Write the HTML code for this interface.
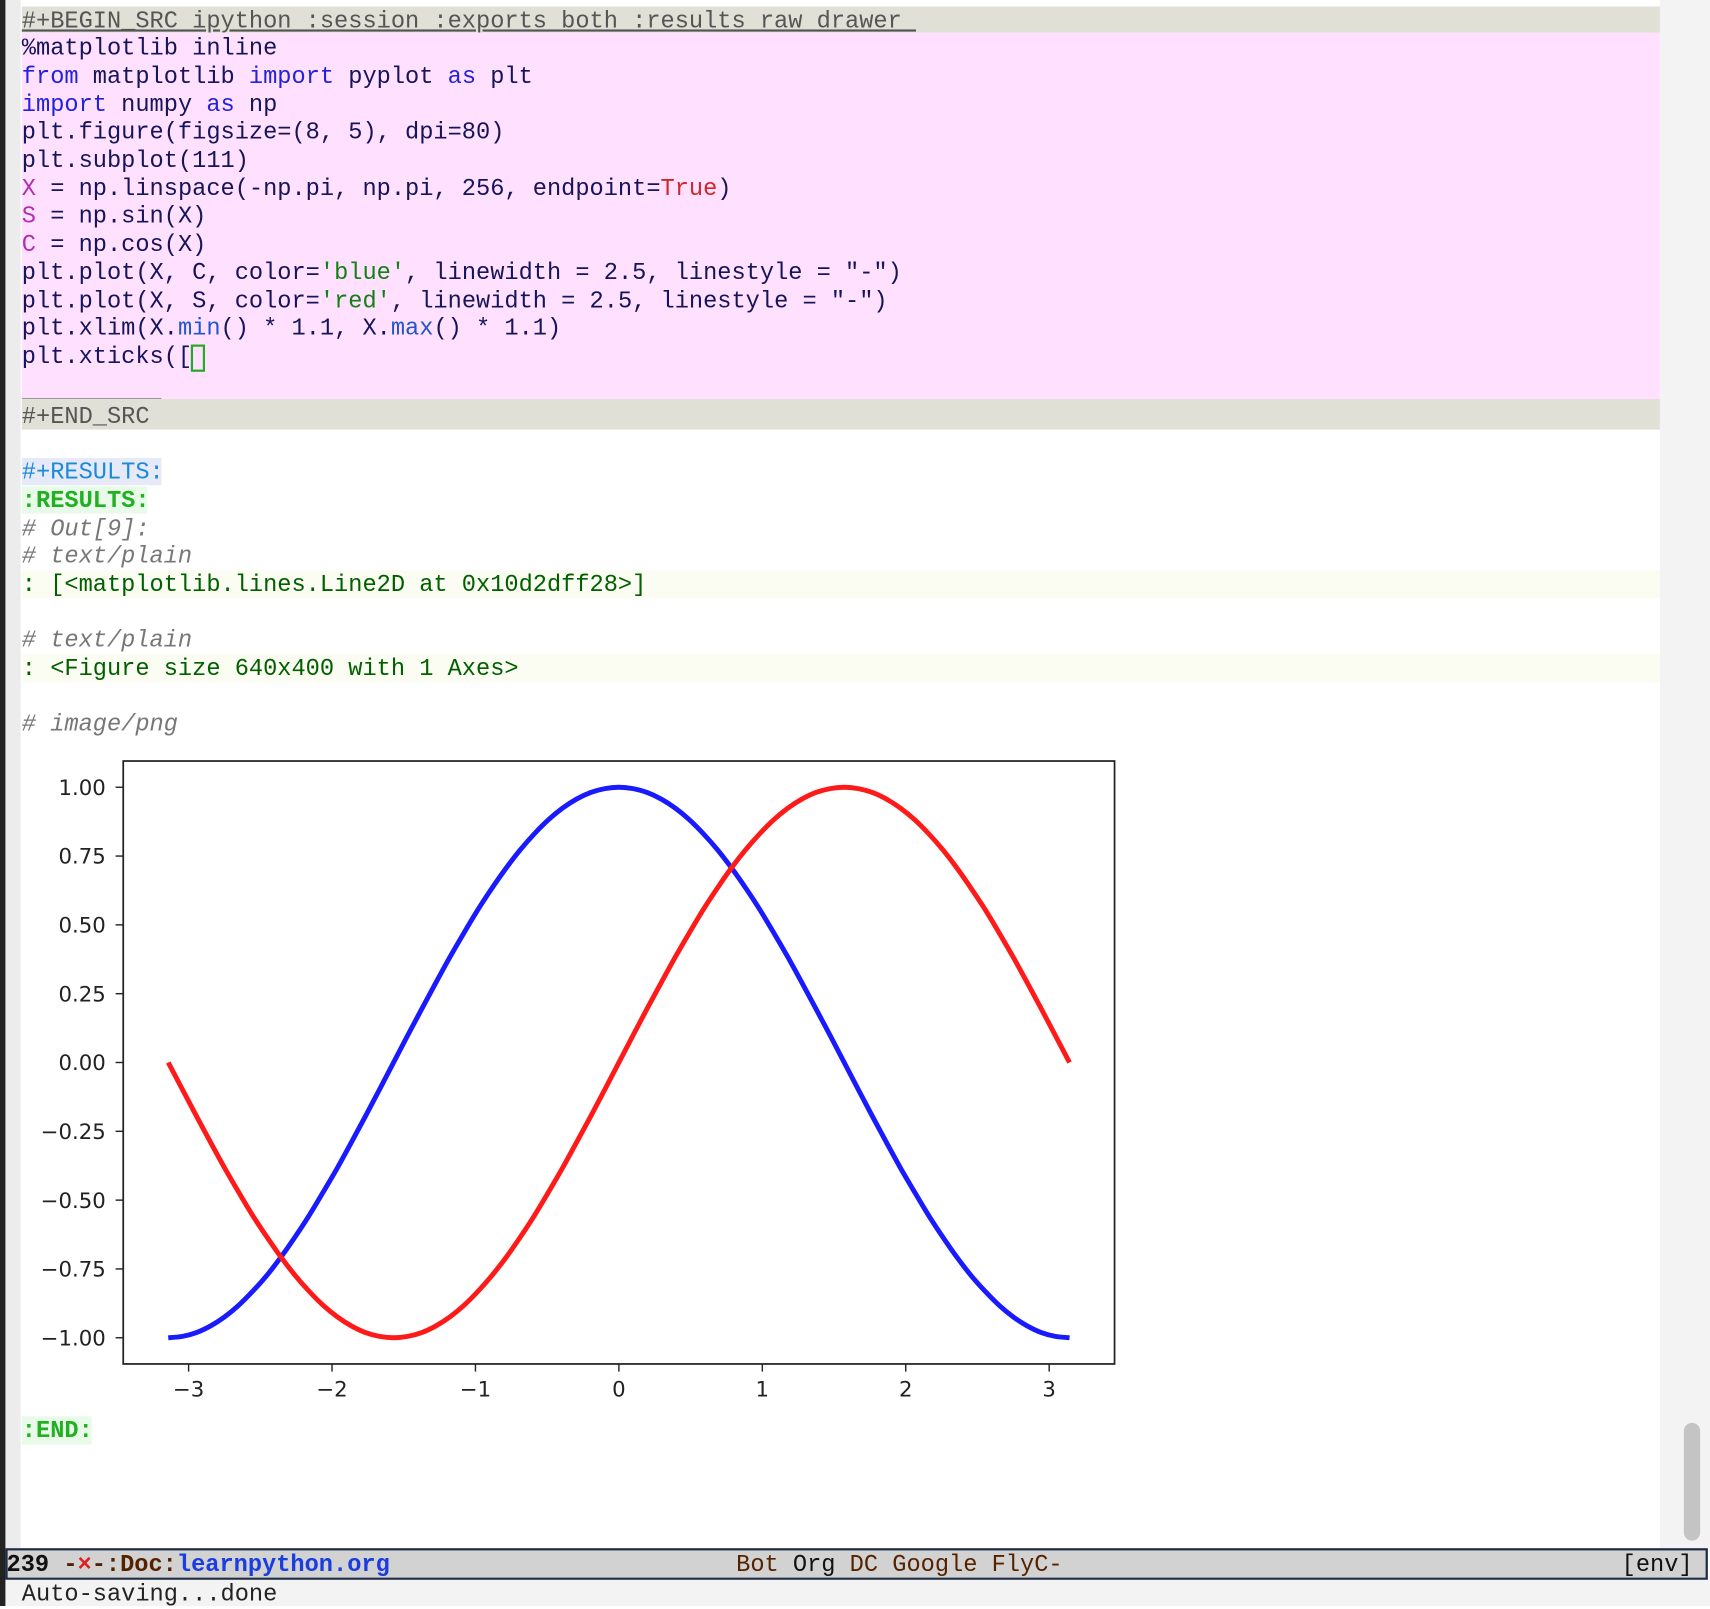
<!DOCTYPE html>
<html><head><meta charset="utf-8">
<style>
html,body{margin:0;padding:0;background:#fff;overflow:hidden;width:1710px;height:1606px}
#frame{position:absolute;left:0;top:0;width:1568px;height:1473px;transform:scale(1.09056,1.0903);transform-origin:0 0;background:#fff}
.ln{position:absolute;left:20px;height:25.6px;line-height:25.6px;font-family:"Liberation Mono",monospace;font-size:21.7px;white-space:pre;color:#15155a;margin-top:2px}
.kw{color:#2222dd}.vr{color:#b030b0}.tr{color:#d02828}.st{color:#138013}.fn{color:#2255cc}
.cm{color:#777;font-style:italic}
.res{color:#006000}
</style></head><body>
<div id="frame">
<div style="position:absolute;left:0;top:0;width:5px;height:1473px;background:#222"></div>
<div style="position:absolute;left:5px;top:0;width:14px;height:1420px;background:#ececec"></div>
<div style="position:absolute;left:1522px;top:0;width:46px;height:1420px;background:#f3f3f3"></div>
<div style="position:absolute;left:1544px;top:1305px;width:15px;height:108px;border-radius:8px;background:#c4c4c4"></div>

<div style="position:absolute;left:20px;top:6px;width:1502px;height:24px;background:#e0e0d6"></div>
<div class="ln" style="top:5px;color:#555;text-decoration:underline">#+BEGIN_SRC ipython :session :exports both :results raw drawer </div>
<div style="position:absolute;left:20px;top:30px;width:1502px;height:336px;background:#ffe0ff"></div>
<div class="ln" style="top:30px">%matplotlib inline</div>
<div class="ln" style="top:56px"><span class="kw">from</span> matplotlib <span class="kw">import</span> pyplot <span class="kw">as</span> plt</div>
<div class="ln" style="top:82px"><span class="kw">import</span> numpy <span class="kw">as</span> np</div>
<div class="ln" style="top:107px">plt.figure(figsize=(8, 5), dpi=80)</div>
<div class="ln" style="top:133px">plt.subplot(111)</div>
<div class="ln" style="top:159px"><span class="vr">X</span> = np.linspace(-np.pi, np.pi, 256, endpoint=<span class="tr">True</span>)</div>
<div class="ln" style="top:184px"><span class="vr">S</span> = np.sin(X)</div>
<div class="ln" style="top:210px"><span class="vr">C</span> = np.cos(X)</div>
<div class="ln" style="top:236px">plt.plot(X, C, color=<span class="st">'blue'</span>, linewidth = 2.5, linestyle = "-")</div>
<div class="ln" style="top:262px">plt.plot(X, S, color=<span class="st">'red'</span>, linewidth = 2.5, linestyle = "-")</div>
<div class="ln" style="top:287px">plt.xlim(X.<span class="fn">min</span>() * 1.1, X.<span class="fn">max</span>() * 1.1)</div>
<div class="ln" style="top:313px">plt.xticks([</div>
<div style="position:absolute;left:175px;top:316px;width:9px;height:21px;border:2px solid #22aa22"></div>
<div style="position:absolute;left:20px;top:365px;width:128px;height:1px;background:#999"></div>
<div style="position:absolute;left:20px;top:366px;width:1502px;height:28px;background:#e0e0d6"></div>
<div class="ln" style="top:368px;color:#555">#+END_SRC</div>

<div style="position:absolute;left:20px;top:420px;width:128px;height:25px;background:#e6eaf8"></div>
<div class="ln" style="top:419px;color:#1a8ad8">#+RESULTS:</div>
<div style="position:absolute;left:20px;top:446px;width:115px;height:25px;background:#e8fbe8"></div>
<div class="ln" style="top:445px;color:#22b022;font-weight:bold">:RESULTS:</div>
<div class="ln cm" style="top:471px"># Out[9]:</div>
<div class="ln cm" style="top:496px"># text/plain</div>
<div style="position:absolute;left:20px;top:523px;width:1502px;height:26px;background:#fbfdf2"></div>
<div class="ln res" style="top:522px">: [&lt;matplotlib.lines.Line2D at 0x10d2dff28&gt;]</div>
<div class="ln cm" style="top:573px"># text/plain</div>
<div style="position:absolute;left:20px;top:600px;width:1502px;height:26px;background:#fbfdf2"></div>
<div class="ln res" style="top:599px">: &lt;Figure size 640x400 with 1 Axes&gt;</div>
<div class="ln cm" style="top:650px"># image/png</div>

<svg id="chart" style="position:absolute;left:0;top:680px" width="1100" height="620"></svg>

<div style="position:absolute;left:20px;top:1299px;width:64px;height:26px;background:#e8fbe8"></div>
<div class="ln" style="top:1298px;color:#22b022;font-weight:bold">:END:</div>

<div style="position:absolute;left:5px;top:1420px;width:1557px;height:25px;background:#d2d2d2;border:2px solid #1c2a44"></div>
<div class="ln" style="left:6px;top:1421px;font-weight:bold;color:#111">239 <span style="color:#552200">-<span style="color:#e02020">×</span>-:Doc:</span><span style="color:#1a3de0">learnpython.org</span></div>
<div class="ln" style="left:675px;top:1421px;color:#552200">Bot <span style="color:#111">Org</span> DC Google FlyC-</div>
<div class="ln" style="left:1487px;top:1421px;color:#111">[env]</div>
<div style="position:absolute;left:5px;top:1449px;width:1563px;height:24px;background:#f3f3f3"></div>
<div class="ln" style="top:1448px;color:#222">Auto-saving...done</div>
</div>

<script>
const xValues=[-3.142,-3.043,-2.945,-2.847,-2.749,-2.651,-2.553,-2.454,-2.356,-2.258,-2.160,-2.062,-1.963,-1.865,-1.767,-1.669,-1.571,-1.473,-1.374,-1.276,-1.178,-1.080,-0.982,-0.884,-0.785,-0.687,-0.589,-0.491,-0.393,-0.295,-0.196,-0.098,0,0.098,0.196,0.295,0.393,0.491,0.589,0.687,0.785,0.884,0.982,1.080,1.178,1.276,1.374,1.473,1.571,1.669,1.767,1.865,1.963,2.062,2.160,2.258,2.356,2.454,2.553,2.651,2.749,2.847,2.945,3.043,3.142];
const cosValues=[-1,-0.995,-0.981,-0.957,-0.924,-0.882,-0.831,-0.773,-0.707,-0.634,-0.556,-0.471,-0.383,-0.290,-0.195,-0.098,0,0.098,0.195,0.290,0.383,0.471,0.556,0.634,0.707,0.773,0.831,0.882,0.924,0.957,0.981,0.995,1,0.995,0.981,0.957,0.924,0.882,0.831,0.773,0.707,0.634,0.556,0.471,0.383,0.290,0.195,0.098,0,-0.098,-0.195,-0.290,-0.383,-0.471,-0.556,-0.634,-0.707,-0.773,-0.831,-0.882,-0.924,-0.957,-0.981,-0.995,-1];
const sinValues=[0,-0.098,-0.195,-0.290,-0.383,-0.471,-0.556,-0.634,-0.707,-0.773,-0.831,-0.882,-0.924,-0.957,-0.981,-0.995,-1,-0.995,-0.981,-0.957,-0.924,-0.882,-0.831,-0.773,-0.707,-0.634,-0.556,-0.471,-0.383,-0.290,-0.195,-0.098,0,0.098,0.195,0.290,0.383,0.471,0.556,0.634,0.707,0.773,0.831,0.882,0.924,0.957,0.981,0.995,1,0.995,0.981,0.957,0.924,0.882,0.831,0.773,0.707,0.634,0.556,0.471,0.383,0.290,0.195,0.098,0];
const xTicks=[-3,-2,-1,0,1,2,3];
const xTickLabels=["−3","−2","−1","0","1","2","3"];
const yTicks=[1,0.75,0.5,0.25,0,-0.25,-0.5,-0.75,-1];
const yTickLabels=["1.00","0.75","0.50","0.25","0.00","−0.25","−0.50","−0.75","−1.00"];

const svg=document.getElementById('chart');
const NS='http://www.w3.org/2000/svg';
const OY=680;
const L=113,R=1022,T=698-OY,B=1251-OY;
const xmin=-3.4558,xmax=3.4558,ymin=-1.0952,ymax=1.0952;
function sx(v){return L+(v-xmin)/(xmax-xmin)*(R-L);}
function sy(v){return B-(v-ymin)/(ymax-ymin)*(B-T);}
function mk(tag,attrs){const e=document.createElementNS(NS,tag);for(const k in attrs)e.setAttribute(k,attrs[k]);svg.appendChild(e);return e;}

function curve(xs,ys){
  const p=xs.map((x,i)=>[sx(x),sy(ys[i])]);
  let d='M'+p[0][0]+','+p[0][1];
  for(let i=0;i<p.length-1;i++){
    const p0=p[Math.max(i-1,0)],p1=p[i],p2=p[i+1],p3=p[Math.min(i+2,p.length-1)];
    const c1=[p1[0]+(p2[0]-p0[0])/6,p1[1]+(p2[1]-p0[1])/6];
    const c2=[p2[0]-(p3[0]-p1[0])/6,p2[1]-(p3[1]-p1[1])/6];
    d+=' C'+c1[0]+','+c1[1]+' '+c2[0]+','+c2[1]+' '+p2[0]+','+p2[1];
  }
  return d;
}

const cosLine=mk('path',{d:curve(xValues,cosValues),fill:'none',stroke:'#1a1aff','stroke-width':4.5,'stroke-linejoin':'round'});


const sinLine=mk('path',{d:curve(xValues,sinValues),fill:'none',stroke:'#ff1a1a','stroke-width':4.5,'stroke-linejoin':'round'});



const frameRect=mk('rect',{x:L,y:T,width:R-L,height:B-T,fill:'none',stroke:'#222','stroke-width':1.6});



xTicks.forEach((v,i)=>{
  const x=sx(v);
  const tk=mk('line',{x1:x,x2:x,y1:B,y2:B+7,stroke:'#222','stroke-width':1.3});
  
  
  const t=mk('text',{x:x,y:B+30,'text-anchor':'middle','font-family':'DejaVu Sans, sans-serif','font-size':19.5,fill:'#222'});
  t.textContent=xTickLabels[i];
  
  
});
yTicks.forEach((v,i)=>{
  const y=sy(v);
  const tk=mk('line',{x1:L-7,x2:L,y1:y,y2:y,stroke:'#222','stroke-width':1.3});
  
  
  const t=mk('text',{x:L-16,y:y+7,'text-anchor':'end','font-family':'DejaVu Sans, sans-serif','font-size':19.5,fill:'#222'});
  t.textContent=yTickLabels[i];
  
  
});
</script>
</body></html>
